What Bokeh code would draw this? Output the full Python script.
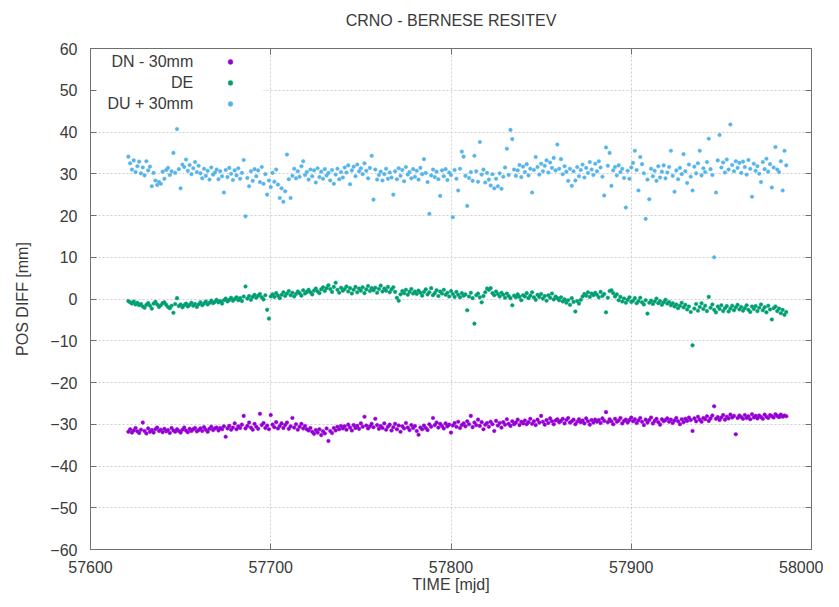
from bokeh.plotting import figure
from bokeh.models import (Range1d, LinearAxis, SingleIntervalTicker, BasicTickFormatter,
                          CustomJSTickFormatter, Legend, LegendItem, Label, BoxAnnotation,
                          ColumnDataSource)
from bokeh.core.properties import value
from bokeh.embed import file_html
from bokeh.resources import INLINE

title_text = "CRNO - BERNESE RESITEV"
x_label = "TIME [mjd]"
y_label = "POS DIFF [mm]"
series_labels = ["DN - 30mm", "DE", "DU + 30mm"]
series_colors = ["#9400d3", "#009e73", "#56b4e9"]

# daily solutions, MJD 57621 .. 57986
mjd = list(range(57621, 57987))

dn_minus_30 = [
    -31.8, -31.2, -32.0, -31.5, -30.9, -31.7, -32.1, -31.3, -29.6, -31.6, -32.2, -31.0, -31.8, -31.4, -32.0, -31.2, -30.8, -31.6, -31.3, -31.9,
    -31.1, -31.7, -31.4, -32.1, -30.9, -31.5, -31.8, -31.2, -31.6, -32.0, -31.3, -30.8, -31.5, -31.9, -31.1, -31.6, -31.2, -30.9, -31.7, -31.4,
    -31.0, -31.6, -30.7, -31.3, -31.8, -31.1, -30.6, -31.4, -31.0, -30.8, -31.5, -30.9, -31.2, -30.5, -33.0, -31.0, -30.4, -31.3, -30.8, -29.8,
    -31.2, -30.5, -30.9, -30.1, -28.0, -31.0, -30.4, -29.6, -30.8, -31.3, -29.9, -30.6, -31.1, -27.5, -30.2, -29.7, -30.9, -30.3, -31.2, -27.8,
    -30.1, -30.7, -29.5, -31.0, -30.4, -29.8, -30.9, -30.2, -29.6, -31.1, -30.5, -28.5, -30.8, -30.0, -31.3, -30.6, -29.9, -31.0, -30.4, -31.2,
    -31.5, -30.9, -31.8, -32.3, -31.4, -32.0, -31.2, -32.6, -31.7, -32.2, -31.0, -34.0, -31.6, -32.1, -30.9, -31.5, -30.6, -31.2, -30.4, -31.0,
    -30.5, -31.3, -30.1, -30.8, -31.5, -30.2, -30.9, -30.4, -31.1, -29.8, -30.6, -28.2, -30.3, -31.0, -30.5, -29.9, -30.7, -28.7, -30.2, -31.1,
    -30.4, -30.9, -29.8, -31.3, -30.6, -30.1, -31.5, -30.7, -29.9, -31.2, -30.3, -31.8, -30.5, -31.0, -29.7, -30.8, -31.4, -30.2, -30.9, -30.4,
    -31.6, -32.5, -30.8, -31.2, -30.3, -30.9, -31.4, -30.0, -30.6, -28.5, -30.2, -29.6, -30.8, -29.9, -30.4, -31.0, -29.8, -30.5, -30.1, -32.0,
    -30.3, -29.7, -30.6, -29.4, -30.9, -30.2, -29.8, -30.5, -29.3, -30.0, -28.0, -30.7, -29.6, -30.2, -28.9, -30.4, -29.5, -31.2, -30.1, -29.7,
    -30.6, -29.4, -30.0, -31.6, -29.2, -30.3, -29.7, -30.8, -29.5, -30.1, -28.8, -29.9, -30.4, -29.3, -30.0, -29.6, -28.9, -30.2, -29.4, -29.8,
    -29.1, -30.0, -29.5, -28.7, -29.9, -29.3, -30.2, -28.9, -29.6, -28.0, -29.4, -30.1, -29.0, -29.7, -28.6, -29.3, -30.0, -29.1, -28.8, -29.5,
    -29.2, -28.7, -29.8, -29.0, -28.5, -29.6, -29.3, -28.9, -30.0, -29.4, -28.8, -29.5, -29.1, -29.8, -28.6, -29.3, -30.1, -29.0, -29.6, -28.9,
    -29.4, -29.0, -29.7, -28.6, -29.2, -27.1, -29.5, -28.8, -29.3, -30.0, -28.7, -29.4, -29.1, -28.5, -29.8, -29.2, -28.9, -29.6, -29.0, -28.4,
    -29.3, -28.8, -29.7, -29.1, -28.5, -29.4, -30.2, -28.9, -29.6, -29.0, -28.4, -29.8, -29.2, -28.7, -29.5, -30.1, -28.8, -29.3, -29.0, -28.6,
    -29.4, -28.9, -29.7, -29.1, -28.5, -29.3, -30.0, -28.8, -29.5, -28.7, -29.2, -28.4, -29.0, -31.6, -28.6, -29.3, -28.2, -28.9, -29.4, -28.5,
    -28.8, -28.1, -29.2, -28.6, -27.9, -25.7, -28.7, -28.3, -29.0, -28.4, -27.8, -28.9, -28.2, -28.6, -27.7, -28.4, -28.0, -32.4, -28.5, -27.9,
    -28.3, -28.7, -27.8, -28.5, -28.1, -28.8, -27.6, -28.4, -28.0, -28.6, -27.9, -28.3, -28.7, -27.7, -28.2, -28.5, -27.8, -28.1, -28.4, -27.6,
    -28.0, -28.3, -27.7, -28.2, -27.9, -28.1,
]

de = [
    -0.5, -0.8, -1.1, -0.6, -1.3, -0.9, -1.5, -1.2, -1.8, -2.1, -1.4, -1.0, -1.6, -2.3, -1.1, -0.7, -1.3, -1.9, -1.5, -1.0,
    -0.8, -1.4, -1.9, -2.2, -1.6, -3.3, -1.2, 0.2, -1.7, -1.3, -2.0, -1.5, -1.1, -1.8, -1.4, -0.9, -1.6, -1.2, -1.9, -1.3,
    -0.8, -1.5, -1.1, -0.6, -1.3, -0.9, -0.4, -1.0, -0.7, -0.2, -0.8, -0.5, -1.1, -0.3, 0.1, -0.6, -0.2, 0.3, -0.4, 0.0,
    0.4, -0.3, 0.2, -0.5, 0.6, 3.0, 0.1, 0.7, -0.2, 0.5, 1.0, 0.3, 0.8, 1.2, 0.4, -0.1, 0.9, -2.6, -4.7, 0.6,
    1.1, 0.5, 1.4, 0.8, 0.2, 1.0, 1.6, 0.7, 1.3, 1.9, 0.9, 1.5, 0.6, 1.2, 1.8, 1.4, 0.8, 2.1, 1.3, 1.7,
    2.2, 1.6, 1.1, 2.0, 2.5, 1.8, 1.4, 2.3, 2.8, 1.9, 2.6, 3.3, 2.4, 1.7, 2.9, 3.9, 2.2, 1.5, 2.7, 2.0,
    2.4, 3.0, 1.8, 2.6, 1.3, 2.2, 2.9, 1.6, 2.5, 2.0, 2.8, 1.4, 2.3, 3.1, 1.9, 2.6, 2.1, 2.7, 1.5, 2.4,
    3.2, 1.8, 2.5, 2.0, 2.9, 1.6, 2.3, 2.8, 1.7, 0.3, -0.4, 1.1, 1.9, 1.4, 2.2, 1.0, 1.7, 2.4, 1.3, 1.8,
    1.2, 2.0, 1.5, 0.8, 1.7, 2.3, 1.1, 1.6, 2.6, 0.9, 1.4, 2.1, 0.7, 1.8, 1.3, 2.2, 1.0, 1.5, 0.6, 1.9,
    1.2, 0.5, 1.7, 1.0, 0.4, 1.4, 0.8, 1.1, -2.7, 0.6, 1.5, 0.2, -5.9, 0.9, 1.3, 0.4, -0.8, 0.7, 1.6, 2.5,
    2.2, 2.6, 1.4, 0.9, 1.8, 1.2, 0.6, 1.5, 1.0, 0.3, 1.3, 0.7, 0.2, -1.5, 0.8, 0.4, 1.1, 0.5, -0.3, 0.9,
    0.6, 1.4, 0.2, 0.8, 1.6, 0.4, -0.2, 1.0, 0.5, 1.2, 0.1, 0.7, -0.4, 0.9, 0.3, 1.3, -0.1, 0.6, 0.2, -0.3,
    0.4, -0.6, -0.1, -0.9, -0.3, -1.4, 0.2, -0.7, -3.0, -0.5, -1.1, -0.2, 0.6, 1.2, 0.8, 1.6, 0.5, 1.3, 0.9, 1.5,
    1.0, 0.4, 1.7, 0.7, 1.2, -3.2, 0.3, 1.9, 2.1, 1.4, 0.6, 1.1, -0.3, 0.5, -0.6, 0.1, -0.9, -0.2, 0.4, -0.7,
    -0.4, 0.2, -1.0, -0.5, 0.3, -0.8, -1.3, -0.3, -3.5, -0.9, -0.4, -1.2, -0.6, 0.1, -1.0, -0.5, -1.4, -0.8, -0.2, -1.1,
    -0.7, -1.5, -1.0, -1.8, -1.3, -2.2, -1.6, -0.9, -2.0, -1.4, -2.5, -1.8, -3.1, -11.1, -2.3, -1.2, -2.8, -1.9, -1.0, -2.4,
    -1.6, -2.9, 0.5, -2.1, -1.3, -2.6, -3.2, -1.8, -2.4, -1.5, -2.9, -2.2, -1.7, -3.0, -2.3, -1.6, -2.7, -2.0, -1.4, -2.5,
    -1.9, -2.8, -2.2, -1.5, -2.6, -3.1, -1.8, -2.4, -1.7, -2.9, -2.1, -1.3, -2.7, -2.0, -3.2, -1.6, -2.5, -4.9, -2.2, -1.8,
    -2.9, -2.3, -3.4, -2.6, -3.8, -3.1,
]

du_plus_30 = [
    34.1, 32.5, 31.0, 33.2, 30.4, 31.8, 32.9, 30.1, 31.5, 29.6, 33.0, 30.8, 31.7, 27.0, 30.2, 28.4, 27.3, 28.0, 27.6, 30.5,
    28.8, 30.9, 31.4, 29.7, 30.6, 35.0, 30.2, 40.7, 31.1, 26.5, 32.2, 31.6, 33.4, 30.7, 32.1, 29.9, 31.3, 32.8, 30.4, 31.9,
    30.1, 28.9, 31.2, 29.5, 30.7, 28.6, 31.5, 29.8, 30.3, 31.0, 28.7, 30.6, 29.4, 25.5, 30.9, 29.2, 31.4, 30.0, 28.5, 30.8,
    29.6, 31.3, 28.8, 30.2, 33.3, 19.8, 29.0, 27.0, 30.6, 28.3, 31.1, 29.4, 30.8, 28.0, 31.6, 27.6, 29.9, 25.0, 28.4, 26.8,
    30.2, 28.1, 31.0, 27.4, 24.2, 26.5, 23.3, 25.8, 34.6, 28.7, 24.2, 29.5, 31.2, 28.9, 30.6, 29.3, 31.8, 33.0, 29.7, 30.4,
    28.6, 31.0, 29.4, 30.8, 27.9, 31.3, 29.2, 30.5, 28.8, 31.1, 29.6, 30.2, 28.4, 30.9, 27.6, 29.8, 31.2, 28.7, 30.4, 29.1,
    31.5, 30.3, 32.0, 27.5, 30.8, 31.7, 29.4, 32.2, 30.6, 31.3, 29.9, 32.5, 30.7, 28.9, 31.4, 34.3, 23.8, 31.0, 28.6, 29.7,
    30.5, 28.4, 29.9, 31.2, 28.8, 30.3, 29.1, 25.0, 30.6, 28.7, 31.3, 29.5, 30.9, 28.2, 31.6, 29.8, 30.4, 28.9, 31.1, 29.3,
    30.7, 28.6, 31.4, 29.9, 33.5, 30.2, 28.0, 20.4, 29.6, 31.0, 29.2, 30.5, 28.7, 24.7, 30.8, 29.4, 31.1, 28.5, 30.3, 29.7,
    19.6, 30.9, 28.8, 26.0, 31.2, 35.3, 34.1, 29.5, 22.3, 29.0, 30.4, 28.3, 34.3, 30.6, 28.1, 37.6, 29.8, 31.0, 27.9, 30.2,
    28.6, 27.2, 29.9, 26.5, 28.8, 27.0, 30.1, 26.4, 29.3, 31.5, 36.0, 29.7, 40.5, 38.3, 31.0, 29.5, 30.8, 32.1, 29.2, 31.7,
    30.4, 32.3, 29.6, 31.2, 25.5, 30.9, 34.0, 31.6, 29.8, 32.4, 30.6, 31.9, 33.2, 30.3, 32.7, 31.4, 33.8, 30.8, 37.0, 31.2,
    33.5, 29.9, 31.8, 30.5, 28.3, 31.2, 27.1, 30.6, 28.4, 31.6, 29.4, 30.9, 32.2, 29.1, 31.4, 30.2, 32.8, 31.0, 29.7, 32.4,
    30.6, 33.0, 31.5, 29.3, 24.8, 36.3, 31.9, 35.0, 27.1, 30.8, 31.6, 29.6, 32.0, 30.4, 31.2, 29.0, 21.9, 30.7, 28.8, 31.5,
    32.6, 35.5, 30.9, 26.0, 34.0, 32.3, 30.1, 19.2, 28.6, 23.9, 31.2, 29.4, 30.7, 28.3, 31.8, 29.1, 30.5, 32.0, 28.9, 30.3,
    31.6, 35.5, 29.5, 25.7, 30.8, 28.7, 31.4, 29.9, 34.7, 30.6, 27.8, 32.2, 29.3, 26.0, 31.7, 30.1, 32.5, 35.5, 29.6, 31.3,
    30.4, 32.8, 38.4, 31.1, 29.7, 10.0, 25.5, 33.2, 39.3, 31.5, 32.7, 30.3, 33.4, 31.0, 41.8, 32.1, 30.6, 33.0, 31.4, 32.6,
    30.2, 32.9, 31.6, 29.8, 33.3, 31.2, 24.5, 32.4, 30.7, 31.8, 30.0, 28.0, 32.8, 31.1, 33.6, 30.5, 32.3, 26.7, 31.5, 36.4,
    31.0, 30.4, 33.0, 26.0, 35.5, 32.0,
]

FONT = "Liberation Sans"
TEXT = "#3a3a3a"
AXC = "#707070"
FS = "16px"

p = figure(width=823, height=599, output_backend="svg", toolbar_location=None,
           x_range=Range1d(57600, 58000), y_range=Range1d(-60, 60),
           min_border_left=90, min_border_right=12, min_border_top=48, min_border_bottom=50)
p.background_fill_color = "white"
p.outline_line_color = AXC

p.title.text = title_text
p.title.align = "center"
p.title.text_font = FONT
p.title.text_font_size = FS
p.title.text_font_style = "normal"
p.title.text_color = TEXT

xt = SingleIntervalTicker(interval=100, num_minor_ticks=0)
yt = SingleIntervalTicker(interval=10, num_minor_ticks=0)
blank = CustomJSTickFormatter(code="return '';")
spacer = CustomJSTickFormatter(code="return ' ';")


def style_axis(ax, show_labels=True):
    ax.axis_line_color = AXC
    ax.major_tick_line_color = AXC
    ax.minor_tick_line_color = None
    ax.major_tick_in = 6
    ax.major_tick_out = 0
    ax.major_label_text_font = FONT
    ax.major_label_text_color = TEXT
    ax.axis_label_text_font = FONT
    ax.axis_label_text_color = TEXT
    ax.axis_label_text_font_style = "normal"
    ax.axis_label_text_font_size = FS
    ax.major_label_text_font_size = FS
    if not show_labels:
        ax.formatter = blank
        ax.major_label_standoff = 0


p.xaxis.ticker = xt
p.xaxis.formatter = BasicTickFormatter(use_scientific=False)
p.yaxis.ticker = yt
p.xaxis.axis_label = x_label
p.yaxis.axis_label = y_label
style_axis(p.xaxis[0])
style_axis(p.yaxis[0])
p.xaxis.major_label_standoff = 11
p.xaxis.axis_label_standoff = 0
p.yaxis.major_label_standoff = 13
p.yaxis.axis_label_standoff = 16

top_ax = LinearAxis(ticker=xt)
right_ax = LinearAxis(ticker=yt)
style_axis(top_ax, False)
style_axis(right_ax, False)
# blank spacer labels on the mirrored top axis lift the title away from the frame
top_ax.formatter = spacer
top_ax.major_label_text_font_size = "11px"
p.add_layout(top_ax, "above")
p.add_layout(right_ax, "right")

p.xgrid.ticker = xt
p.ygrid.ticker = yt
for g in (p.xgrid[0], p.ygrid[0]):
    g.grid_line_color = "#cfcfcf"
    g.grid_line_dash = "2 2"
    g.grid_line_width = 1

# key background hides the grid behind the key, as in the original
key_bg = BoxAnnotation(left=57600, right=57696, bottom=44, top=59.6,
                       fill_color="white", fill_alpha=1.0, line_color=None, level="underlay")
p.add_layout(key_bg)

ys = [dn_minus_30, de, du_plus_30]
renderers = []
for vals, col in zip(ys, series_colors):
    src = ColumnDataSource(dict(x=mjd, y=vals))
    r = p.scatter("x", "y", source=src, marker="circle", size=3.6,
                  fill_color=col, line_color=col, line_width=0.5)
    renderers.append(r)

legend = Legend(items=[LegendItem(label=value(""), renderers=[r]) for r in renderers],
                location=(134, 435), padding=0, spacing=0, margin=0,
                glyph_width=12, glyph_height=21, label_height=21, label_width=0,
                label_standoff=0, border_line_color=None, background_fill_alpha=0,
                label_text_font_size=FS)
p.add_layout(legend)

key_y = [56.8, 51.8, 46.8]
for lab, yy in zip(series_labels, key_y):
    p.add_layout(Label(x=57657, y=yy, text=lab, text_align="right", text_baseline="middle",
                       text_font=FONT, text_font_size=FS, text_color=TEXT))

open("out.html", "w").write(file_html(p, INLINE))
